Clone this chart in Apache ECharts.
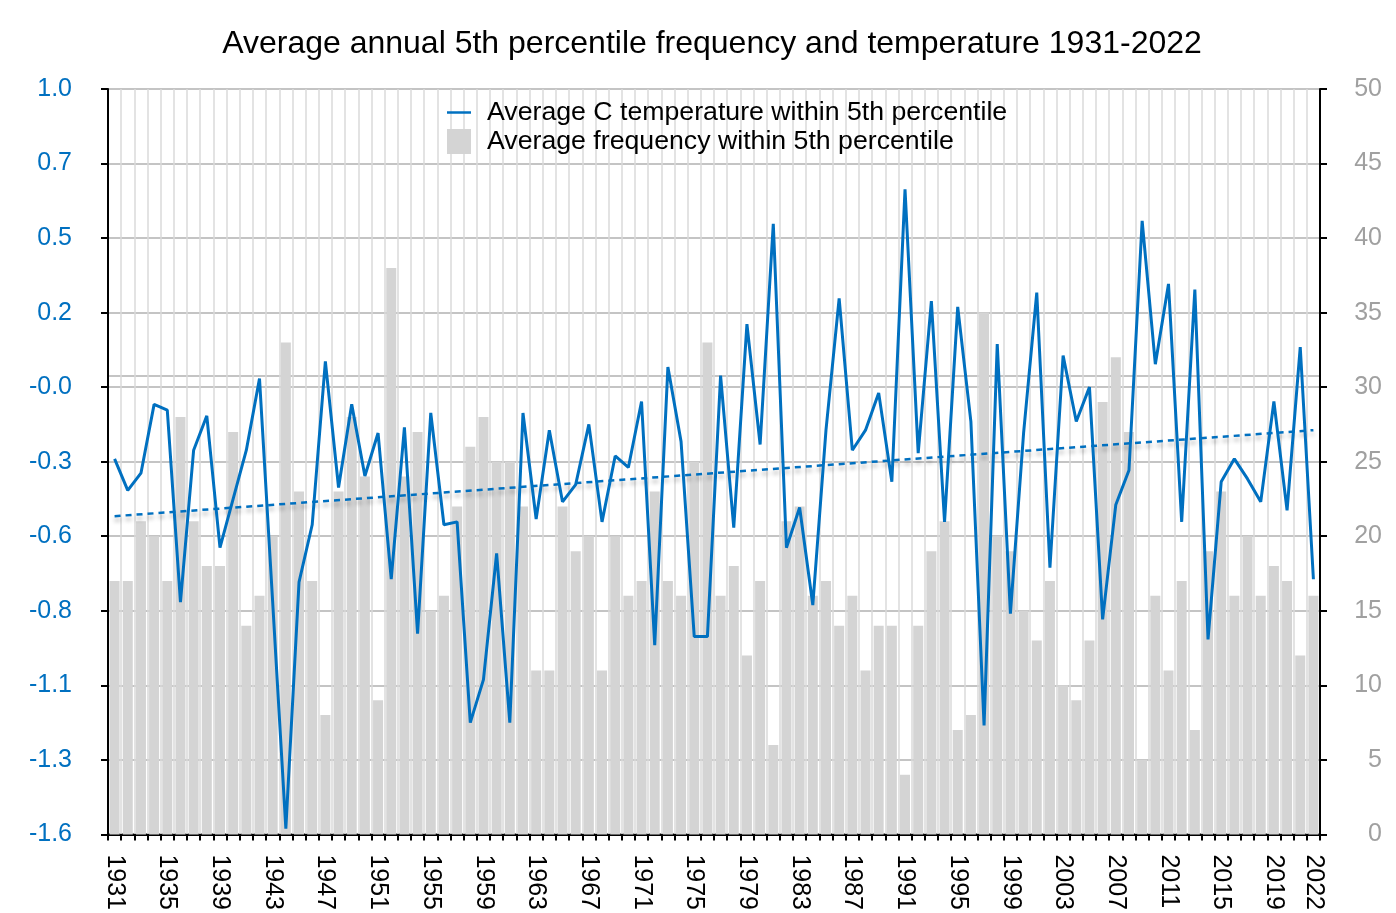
<!DOCTYPE html>
<html><head><meta charset="utf-8">
<script src="https://cdn.jsdelivr.net/npm/echarts@6/dist/echarts.min.js"></script>
<style>html,body{margin:0;padding:0;background:#fff}#c{width:1396px;height:913px}</style>
</head><body><div id="c"></div>
<script>
const years = ['1931','1932','1933','1934','1935','1936','1937','1938','1939','1940',
'1941','1942','1943','1944','1945','1946','1947','1948','1949','1950',
'1951','1952','1953','1954','1955','1956','1957','1958','1959','1960',
'1961','1962','1963','1964','1965','1966','1967','1968','1969','1970',
'1971','1972','1973','1974','1975','1976','1977','1978','1979','1980',
'1981','1982','1983','1984','1985','1986','1987','1988','1989','1990',
'1991','1992','1993','1994','1995','1996','1997','1998','1999','2000',
'2001','2002','2003','2004','2005','2006','2007','2008','2009','2010',
'2011','2012','2013','2014','2015','2016','2017','2018','2019','2020',
'2021','2022'];

const frequency = [17,17,21,20,17,28,21,18,18,27,
14,16,20,33,23,17,8,23,28,24,
9,38,24,27,15,16,22,26,28,25,
25,22,11,11,22,19,20,11,20,16,
17,23,17,16,25,33,16,18,12,17,
6,21,22,16,17,14,16,11,14,14,
4,14,19,21,7,8,35,20,19,15,
13,17,10,9,13,29,32,27,5,16,
11,17,7,19,23,16,20,16,18,17,
12,16];

const temperature = [-0.29,-0.40,-0.34,-0.10,-0.12,-0.79,-0.26,-0.14,-0.60,-0.43,
-0.26,-0.01,-0.79,-1.58,-0.72,-0.52,0.05,-0.39,-0.10,-0.35,
-0.20,-0.71,-0.18,-0.90,-0.13,-0.52,-0.51,-1.21,-1.06,-0.62,
-1.21,-0.13,-0.50,-0.19,-0.44,-0.38,-0.17,-0.51,-0.28,-0.32,
-0.09,-0.94,0.03,-0.23,-0.91,-0.91,0.00,-0.53,0.18,-0.24,
0.53,-0.60,-0.46,-0.80,-0.19,0.27,-0.26,-0.19,-0.06,-0.37,
0.65,-0.27,0.26,-0.51,0.24,-0.16,-1.22,0.11,-0.83,-0.20,
0.29,-0.67,0.07,-0.16,-0.04,-0.85,-0.45,-0.33,0.54,0.04,
0.32,-0.51,0.30,-0.92,-0.37,-0.29,-0.36,-0.44,-0.09,-0.47,
0.10,-0.71];

const trendEnds = [-0.49, -0.19];
const leftTicks = [-1.6,-1.34,-1.08,-0.82,-0.56,-0.3,-0.04,0.22,0.48,0.74,1.0];

const FONT = 'Liberation Sans, Arial, sans-serif';
const BLUE = '#0070c0';
const NAME_T = 'Average C temperature within 5th percentile';
const NAME_F = 'Average frequency within 5th percentile';

const chart = echarts.init(document.getElementById('c'), null, {renderer: 'canvas'});
chart.setOption({
  animation: false,
  backgroundColor: '#fff',
  textStyle: {fontFamily: FONT},
  title: {
    text: 'Average annual 5th percentile frequency and temperature 1931-2022',
    left: 707, top: 23, textAlign: 'center',
    textStyle: {fontFamily: FONT, fontSize: 32, fontWeight: 'normal', color: '#000'}
  },
  legend: {
    orient: 'vertical', left: 442, top: 94, itemGap: 2, itemWidth: 24, itemHeight: 25,
    symbolKeepAspect: true,
    textStyle: {fontFamily: FONT, fontSize: 26.7, lineHeight: 26, color: '#000', padding: [0,0,0,11]},
    data: [
      {name: NAME_T, icon: 'path://M0,0 L24,0 L24,2.5 L0,2.5 Z', itemStyle: {color: BLUE}},
      {name: NAME_F, icon: 'rect'}
    ]
  },
  grid: {left: 108, right: 76, top: 89, bottom: 74, show: true, borderColor: '#000', borderWidth: 2},
  xAxis: {
    type: 'category', data: years, boundaryGap: true,
    axisLine: {onZero: false, lineStyle: {color: '#000', width: 2}},
    axisTick: {show: true, interval: 0, length: 6, lineStyle: {color: '#000', width: 2}},
    axisLabel: {
      interval: function (i) { return i % 4 === 0 || i === years.length - 1; },
      rotate: -90, fontSize: 25, color: '#000', margin: 20, fontFamily: FONT
    },
    splitLine: {show: true, interval: 0, lineStyle: {color: '#dadada', width: 1.5}}
  },
  yAxis: [
    {
      type: 'value', position: 'left', min: -1.6, max: 1.0,
      axisLine: {show: true, onZero: false, lineStyle: {color: '#000', width: 2}},
      axisTick: {show: true, customValues: leftTicks, length: 7, lineStyle: {color: '#000', width: 2}},
      axisLabel: {customValues: leftTicks, formatter: function (v) { return Number(v).toFixed(1); },
        color: BLUE, fontSize: 25, margin: 36, fontFamily: FONT},
      splitLine: {show: false}
    },
    {
      type: 'value', position: 'right', min: 0, max: 50, interval: 5,
      axisLine: {show: true, onZero: false, lineStyle: {color: '#000', width: 2}},
      axisTick: {show: true, length: 7, lineStyle: {color: '#000', width: 2}},
      axisLabel: {color: '#a0a0a0', fontSize: 25, align: 'right', margin: 62, fontFamily: FONT},
      splitLine: {show: true, lineStyle: {color: '#c4c4c4', width: 2}}
    },
    {
      type: 'value', position: 'left', min: -1.6, max: 1.0, interval: 1.6,
      axisLine: {show: false, onZero: false}, axisTick: {show: false}, axisLabel: {show: false},
      splitLine: {show: true, lineStyle: {color: '#c4c4c4', width: 2}}
    }
  ],
  series: [
    {
      name: NAME_F, type: 'bar', yAxisIndex: 1, data: frequency,
      barCategoryGap: '24%', itemStyle: {color: '#d4d4d4'}, z: 2, silent: true
    },
    {
      name: 'trend', type: 'line', yAxisIndex: 0,
      data: [[years[0], trendEnds[0]], [years[years.length - 1], trendEnds[1]]],
      symbol: 'none', z: 3, silent: true,
      lineStyle: {color: BLUE, width: 2.5, type: [6, 5],
        shadowColor: 'rgba(0,0,0,0.3)', shadowBlur: 4, shadowOffsetY: 4}
    },
    {
      name: NAME_T, type: 'line', yAxisIndex: 0, data: temperature,
      symbol: 'none', z: 4, silent: true,
      lineStyle: {color: BLUE, width: 3}, itemStyle: {color: BLUE}
    }
  ]
});
</script>
</body></html>
